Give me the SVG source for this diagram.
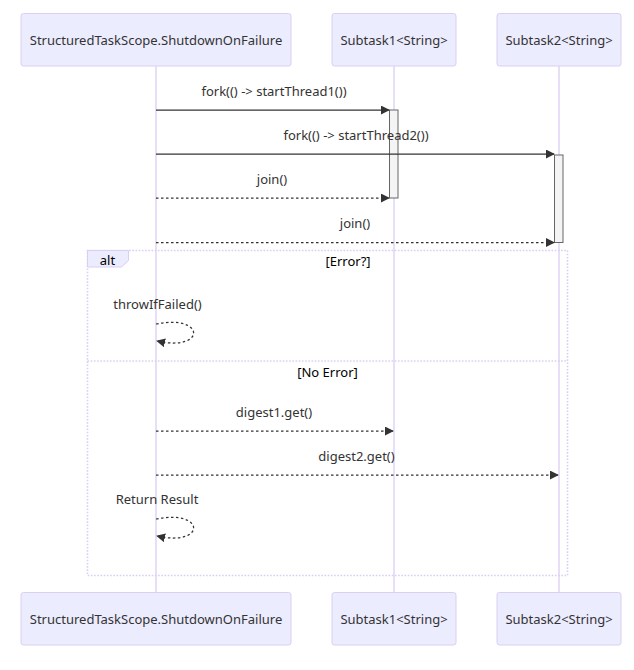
<svg xmlns="http://www.w3.org/2000/svg" width="634" height="670" viewBox="0 0 634 670">
<style>
  .actor { fill: #ECECFF; stroke: #DACEF3; stroke-width: 1; }
  .atext { font-family: "Noto Sans", "Open Sans", sans-serif; font-size: 13px; fill: #333; text-anchor: middle; dominant-baseline: central; }
  .mtext { font-family: "Noto Sans", "Open Sans", sans-serif; font-size: 13px; fill: #333; text-anchor: middle; dominant-baseline: central; }
  .life { stroke: #DACEF3; stroke-width: 1.3; }
  .msg { stroke: #333; stroke-width: 1.25; fill: none; }
  .dash { stroke-dasharray: 2.5 2.5; }
  .act { fill: #F4F4F4; stroke: #666; stroke-width: 1; }
  .loopline { stroke: #DACEF3; stroke-width: 1.6; stroke-dasharray: 1.6 1.6; fill: none; }
  .labelbox { fill: #ECECFF; stroke: #DACEF3; stroke-width: 1; }
  .ltext { font-family: "Noto Sans", "Open Sans", sans-serif; font-size: 13px; fill: #000; text-anchor: middle; dominant-baseline: central; }
</style>
<defs>
  <marker id="arrow" viewBox="0 0 10 10" refX="9" refY="5" markerWidth="9" markerHeight="9" markerUnits="userSpaceOnUse" orient="auto">
    <path d="M0,0 L10,5 L0,10 z" fill="#333"/>
  </marker>
</defs>

<g id="lifelines">
  <line class="life" x1="156" y1="66" x2="156" y2="592"/>
  <line class="life" x1="394" y1="66" x2="394" y2="592"/>
  <line class="life" x1="559" y1="66" x2="559" y2="592"/>
</g>

<g id="actor-scope-top">
  <rect class="actor" x="21" y="13.5" width="270" height="52.5" rx="2.5"/>
  <text class="atext" x="156" y="40">StructuredTaskScope.ShutdownOnFailure</text>
</g>
<g id="actor-subtask1-top">
  <rect class="actor" x="332" y="13.5" width="124" height="52.5" rx="2.5"/>
  <text class="atext" x="394" y="40">Subtask1&lt;String&gt;</text>
</g>
<g id="actor-subtask2-top">
  <rect class="actor" x="497" y="13.5" width="124" height="52.5" rx="2.5"/>
  <text class="atext" x="559" y="40">Subtask2&lt;String&gt;</text>
</g>

<g id="alt-block">
  <rect class="loopline" x="87.5" y="250.5" width="480" height="325"/>
  <line class="loopline" x1="87.5" y1="361" x2="567.5" y2="361"/>
  <polygon class="labelbox" points="87.5,250.5 128.5,250.5 128.5,260.5 121.5,267 87.5,267"/>
  <text class="ltext" x="107.5" y="259.5">alt</text>
  <text class="ltext" x="348" y="261">[Error?]</text>
  <text class="ltext" x="327.5" y="371.5">[No Error]</text>
</g>

<g id="activations">
  <rect class="act" x="389.5" y="110" width="8.5" height="88"/>
  <rect class="act" x="554.5" y="155" width="8.5" height="87.5"/>
</g>

<g id="connectors">
  <line class="msg" x1="156" y1="110" x2="389" y2="110" marker-end="url(#arrow)"/>
  <text class="mtext" x="274" y="91">fork(() -&gt; startThread1())</text>

  <line class="msg" x1="156" y1="154" x2="554" y2="154" marker-end="url(#arrow)"/>
  <text class="mtext" x="356" y="134.5">fork(() -&gt; startThread2())</text>

  <line class="msg dash" x1="156" y1="198" x2="389" y2="198" marker-end="url(#arrow)"/>
  <text class="mtext" x="272" y="178.5">join()</text>

  <line class="msg dash" x1="156" y1="242.5" x2="554" y2="242.5" marker-end="url(#arrow)"/>
  <text class="mtext" x="355" y="222.5">join()</text>

  <path class="msg dash" d="M156,324 C206,314 206,352 157,341" marker-end="url(#arrow)"/>
  <text class="mtext" x="157.5" y="304">throwIfFailed()</text>

  <line class="msg dash" x1="156" y1="431" x2="393" y2="431" marker-end="url(#arrow)"/>
  <text class="mtext" x="274" y="411.5">digest1.get()</text>

  <line class="msg dash" x1="156" y1="475" x2="558" y2="475" marker-end="url(#arrow)"/>
  <text class="mtext" x="356.5" y="455.5">digest2.get()</text>

  <path class="msg dash" d="M156,519 C206,509 206,547 157,536" marker-end="url(#arrow)"/>
  <text class="mtext" x="157" y="499">Return Result</text>
</g>

<g id="actor-scope-bottom">
  <rect class="actor" x="21" y="592.5" width="270" height="52.5" rx="2.5"/>
  <text class="atext" x="156" y="619">StructuredTaskScope.ShutdownOnFailure</text>
</g>
<g id="actor-subtask1-bottom">
  <rect class="actor" x="332" y="592.5" width="124" height="52.5" rx="2.5"/>
  <text class="atext" x="394" y="619">Subtask1&lt;String&gt;</text>
</g>
<g id="actor-subtask2-bottom">
  <rect class="actor" x="497" y="592.5" width="124" height="52.5" rx="2.5"/>
  <text class="atext" x="559" y="619">Subtask2&lt;String&gt;</text>
</g>
</svg>
